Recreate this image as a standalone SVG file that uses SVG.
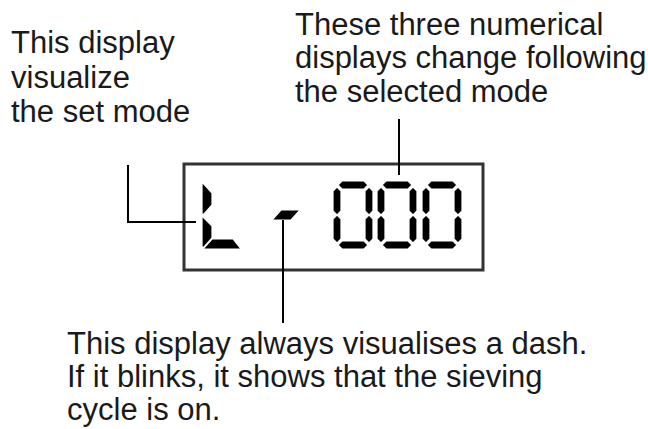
<svg xmlns="http://www.w3.org/2000/svg" xmlns:xlink="http://www.w3.org/1999/xlink" width="648" height="429" viewBox="0 0 648 429">
<style>
.t{font-family:"Liberation Sans",Arial,sans-serif;font-size:31px;fill:#1a1a1a}
.ln{stroke:#000;stroke-width:2;fill:none}
.seg{fill:#000;stroke:#fff;stroke-width:1.2}
</style>
<defs>
<g id="zero">
<polygon class="seg" points="5,4 9,0 31,0 35,4 31,8 9,8"/>
<polygon class="seg" points="4,6 8,10 8,30 4,34 0,30 0,10"/>
<polygon class="seg" points="36,6 40,10 40,30 36,34 32,30 32,10"/>
<polygon class="seg" points="4,34 8,38 8,58 4,62 0,58 0,38"/>
<polygon class="seg" points="36,34 40,38 40,58 36,62 32,58 32,38"/>
<polygon class="seg" points="5,64 9,60 31,60 35,64 31,68 9,68"/>
</g>
</defs>
<rect width="648" height="429" fill="#fff"/>
<g id="display">
<rect x="184" y="164" width="299" height="106" fill="#fff" stroke="#333" stroke-width="3"/>
<g id="digit-L">
<polygon class="seg" points="202,182 212,193 212,205 204,214 202,214"/>
<polygon class="seg" points="202,216 212,226 212,238 204,247 202,247"/>
<polygon class="seg" points="203,249 212,239 233,239 241,249"/>
</g>
<g id="digit-dash">
<polygon class="seg" points="281,210 300,210 291,220 272,220"/>
</g>
<g id="digits-000">
<use xlink:href="#zero" x="333" y="181"/>
<use xlink:href="#zero" x="377" y="181"/>
<use xlink:href="#zero" x="422" y="181"/>
</g>
</g>
<g id="label-mode">
<text class="t" x="11" y="53">This display</text>
<text class="t" x="11" y="88">visualize</text>
<text class="t" x="11" y="122">the set mode</text>
</g>
<g id="label-numbers">
<text class="t" x="295" y="35">These three numerical</text>
<text class="t" x="295" y="68">displays change following</text>
<text class="t" x="295" y="102">the selected mode</text>
</g>
<g id="label-dash">
<text class="t" x="67" y="354">This display always visualises a dash.</text>
<text class="t" x="67" y="387">If it blinks, it shows that the sieving</text>
<text class="t" x="67" y="420">cycle is on.</text>
</g>
<g id="connectors">
<polyline class="ln" points="128,165 128,222 196,222"/>
<line class="ln" x1="399" y1="119" x2="399" y2="175"/>
<line class="ln" x1="283" y1="220" x2="283" y2="323"/>
</g>
</svg>
